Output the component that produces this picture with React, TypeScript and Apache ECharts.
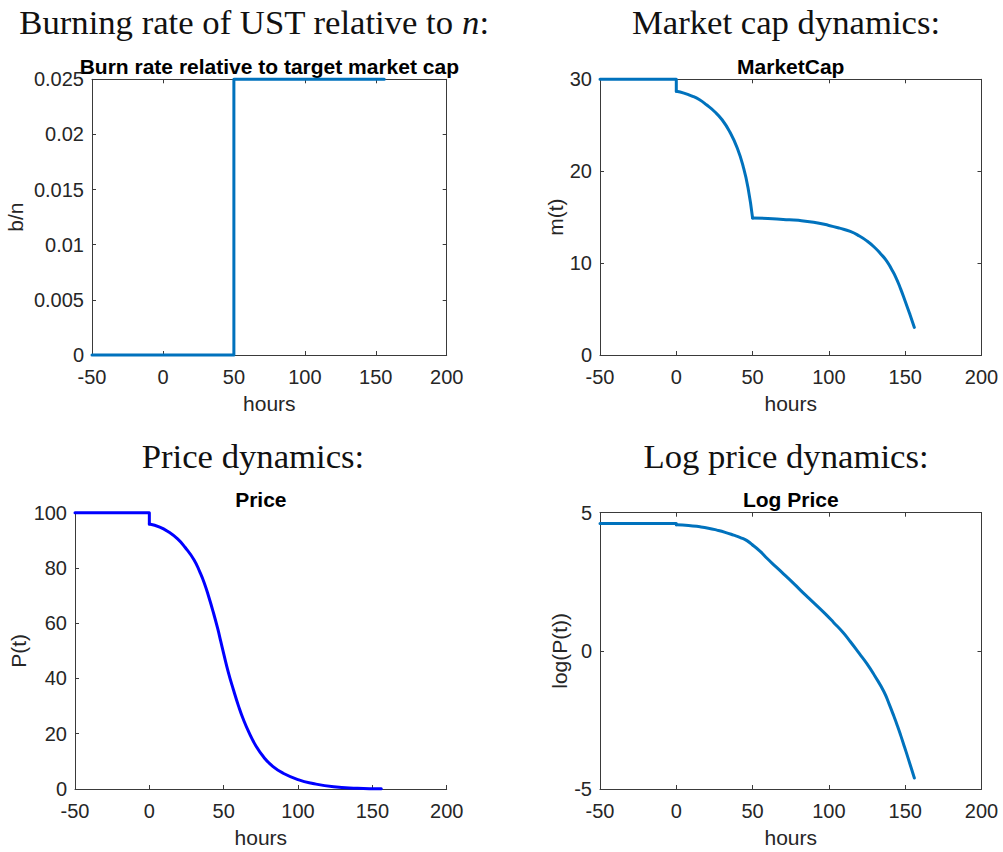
import React, { useEffect, useRef } from "react";
import * as echarts from "echarts";

// ---------- data ----------
const hourTicks = [-50, 0, 50, 100, 150, 200];

const burnHours = [-50, 50, 50, 156];
const burnRate = [0, 0, 0.025, 0.025];

const capHours = [-50, 0, 0, 5, 10, 15, 20, 25, 30, 35, 40, 44, 47, 50, 60, 70, 80, 90, 100, 107, 114, 120, 125, 130, 134, 138, 141, 144, 147, 150, 153, 156];
const capValues = [30, 30, 28.7, 28.5, 28.2, 27.8, 27.2, 26.5, 25.6, 24.3, 22.5, 20.4, 18.2, 14.9, 14.85, 14.75, 14.65, 14.45, 14.1, 13.8, 13.45, 12.95, 12.4, 11.7, 11.0, 10.2, 9.35, 8.4, 7.2, 5.85, 4.45, 3.0];

const priceHours = [-50, 0, 0, 7, 13, 19, 24, 30, 34, 37, 40, 43, 46, 48, 50, 53, 56.5, 60, 63, 67, 72, 77, 83, 90, 100, 110, 124, 140, 156];
const priceValues = [100, 100, 95.9, 94.8, 93, 90.5, 87.5, 83, 78.5, 74.5, 69.5, 64, 58, 53.5, 49, 42.5, 36, 30, 25.5, 20.5, 15.3, 11.5, 8.2, 5.7, 3.4, 2, 0.8, 0.3, 0.05];

const logHours = [-50, 0, 0, 8, 15.5, 21, 26.6, 32, 37.5, 42, 46.3, 50, 55, 59.4, 65, 70.4, 76, 81.3, 87, 92.2, 98, 103.2, 109, 114.1, 120, 125, 130, 136, 139.5, 142.6, 145, 147, 149.5, 152, 154, 156];
const logValues = [4.605, 4.605, 4.56, 4.54, 4.49, 4.44, 4.37, 4.29, 4.19, 4.1, 3.99, 3.83, 3.6, 3.35, 3.06, 2.78, 2.49, 2.2, 1.9, 1.63, 1.32, 1.02, 0.68, 0.33, -0.1, -0.47, -0.9, -1.47, -1.93, -2.37, -2.73, -3.05, -3.47, -3.9, -4.25, -4.6];

const superTitles = ["Burning rate of UST relative to {i|n}:", "Market cap dynamics:", "Price dynamics:", "Log price dynamics:"];
const panelTitles = ["Burn rate relative to target market cap", "MarketCap", "Price", "Log Price"];
const yNames = ["b/n", "m(t)", "P(t)", "log(P(t))"];
const xName = "hours";

// ---------- layout / style ----------
const SANS = "'Liberation Sans', Arial, Helvetica, sans-serif";
const SERIF = "'Liberation Serif', 'Times New Roman', serif";
const AXIS = "#3a3a3a";
const TXT = "#262626";

// segments: [startIndex, endIndex, smooth]
const panels = [
  { grid: { left: 92, top: 79.3, width: 354.7, height: 275.7 }, box: true, yMin: 0, yMax: 0.025, yInt: 0.005, yGap: 66, xs: burnHours, ys: burnRate, color: "#0072BD", segs: [[0, burnHours.length - 1, 0]] },
  { grid: { left: 600, top: 79.3, width: 381.5, height: 275.7 }, box: true, yMin: 0, yMax: 30, yInt: 10, yGap: 30, xs: capHours, ys: capValues, color: "#0072BD", segs: [[0, 2, 0], [2, 13, 0.5], [13, capHours.length - 1, 0.5]] },
  { grid: { left: 75, top: 512.7, width: 371.7, height: 276.3 }, box: false, yMin: 0, yMax: 100, yInt: 20, yGap: 46, xs: priceHours, ys: priceValues, color: "#0000FF", segs: [[0, 2, 0], [2, priceHours.length - 1, 0.5]] },
  { grid: { left: 600, top: 512.7, width: 381.5, height: 276.3 }, box: true, yMin: -5, yMax: 5, yInt: 5, yGap: 30, xs: logHours, ys: logValues, color: "#0072BD", segs: [[0, 2, 0], [2, 11, 0.5], [11, logHours.length - 1, 0.5]] },
];
const superPos = [
  { x: 254, y: 22.5 },
  { x: 786, y: 22.5 },
  { x: 253, y: 456 },
  { x: 786, y: 456 },
];
const SUPER_SIZE = 34.7;

function buildOption() {
  const grid: any[] = [];
  const xAxis: any[] = [];
  const yAxis: any[] = [];
  const series: any[] = [];
  const graphic: any[] = [];

  panels.forEach((p, i) => {
    grid.push({ ...p.grid, containLabel: false, show: false });
    const common = {
      gridIndex: i,
      type: "value",
      splitLine: { show: false },
      axisLine: { show: true, onZero: false, lineStyle: { color: AXIS, width: 1 } },
      axisTick: { show: true, inside: true, length: 4, lineStyle: { color: AXIS, width: 1 } },
    };
    const xMain = xAxis.length;
    xAxis.push({
      ...common,
      position: "bottom",
      min: hourTicks[0],
      max: hourTicks[hourTicks.length - 1],
      interval: hourTicks[1] - hourTicks[0],
      axisLabel: { show: true, margin: 12, fontSize: 20, color: TXT, fontFamily: SANS },
      name: xName,
      nameLocation: "middle",
      nameGap: 38,
      nameTextStyle: { fontSize: 21, color: TXT, fontFamily: SANS },
    });
    const yMain = yAxis.length;
    yAxis.push({
      ...common,
      position: "left",
      min: p.yMin,
      max: p.yMax,
      interval: p.yInt,
      axisLabel: { show: true, margin: 8, fontSize: 20, color: TXT, fontFamily: SANS },
      name: yNames[i],
      nameLocation: "middle",
      nameGap: p.yGap,
      nameTextStyle: { fontSize: 21, color: TXT, fontFamily: SANS },
    });
    if (p.box) {
      xAxis.push({
        ...common,
        position: "top",
        min: hourTicks[0],
        max: hourTicks[hourTicks.length - 1],
        interval: hourTicks[1] - hourTicks[0],
        axisLabel: { show: false },
      });
      yAxis.push({
        ...common,
        position: "right",
        min: p.yMin,
        max: p.yMax,
        interval: p.yInt,
        axisLabel: { show: false },
      });
    }
    p.segs.forEach(([a, b, sm]) => {
      const data: number[][] = [];
      for (let k = a; k <= b; k++) data.push([p.xs[k], p.ys[k]]);
      series.push({
        type: "line",
        xAxisIndex: xMain,
        yAxisIndex: yMain,
        data,
        showSymbol: false,
        symbol: "none",
        clip: false,
        smooth: sm,
        lineStyle: { color: p.color, width: 3, cap: "round", join: "round" },
        itemStyle: { color: p.color },
      });
    });

    const cx = p.grid.left + p.grid.width / 2;
    graphic.push({
      type: "text",
      x: cx,
      y: p.grid.top - 13,
      style: {
        text: panelTitles[i],
        font: `bold 21px ${SANS}`,
        fill: "#000",
        align: "center",
        verticalAlign: "middle",
      },
    });
    graphic.push({
      type: "text",
      x: superPos[i].x,
      y: superPos[i].y,
      style: {
        text: superTitles[i],
        font: `${SUPER_SIZE}px ${SERIF}`,
        fill: "#111",
        align: "center",
        verticalAlign: "middle",
        rich: {
          i: { fontStyle: "italic", fontSize: SUPER_SIZE, fontFamily: SERIF, fill: "#111" },
        },
      },
    });
  });

  return {
    animation: false,
    backgroundColor: "#ffffff",
    grid,
    xAxis,
    yAxis,
    series,
    graphic,
  };
}

export default function App() {
  const ref = useRef<HTMLDivElement>(null);
  useEffect(() => {
    if (!ref.current) return;
    const chart = echarts.init(ref.current, null, { renderer: "svg" });
    chart.setOption(buildOption() as any);
    return () => chart.dispose();
  }, []);
  return (
    <div
      ref={ref}
      style={{ position: "absolute", left: 0, top: 0, width: 1003, height: 852, background: "#fff" }}
    />
  );
}
